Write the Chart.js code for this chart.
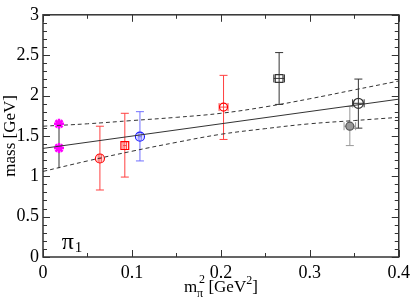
<!DOCTYPE html>
<html>
<head>
<meta charset="utf-8">
<script src="https://cdn.jsdelivr.net/npm/chart.js@4"></script>
<style>
  html, body { margin: 0; padding: 0; background: #fff; }
  #wrap { width: 415px; height: 305px; }
</style>
</head>
<body>
<div id="wrap"><canvas id="massChart" width="415" height="305"></canvas></div>
<script>
// axis tick labels
const xTickLabels = ['0', '0.1', '0.2', '0.3', '0.4'];
const yTickLabels = ['0', '0.5', '1', '1.5', '2', '2.5', '3'];

// linear fit and its error band
const fitX = [0, 0.4];
const fitY = [1.345, 1.955];
const bandX = [0, 0.05, 0.1, 0.15, 0.2, 0.25, 0.3, 0.35, 0.4];
const bandUpper = [1.62, 1.65, 1.69, 1.73, 1.78, 1.86, 1.96, 2.07, 2.18];
const bandLower = [1.06, 1.19, 1.31, 1.42, 1.52, 1.59, 1.65, 1.69, 1.73];

// extrapolated point at the physical pion mass
const physX = [0.018];
const physY = [1.35];
const physLo = [1.10];
const physHi = [1.65];
const starX = [0.018, 0.018];
const starY = [1.35, 1.65];

// lattice points
const massX  = [0.064, 0.092, 0.109, 0.203, 0.2655, 0.3546, 0.345];
const massY  = [1.22, 1.38, 1.49, 1.857, 2.212, 1.904, 1.62];
const massLo = [0.83, 0.99, 1.19, 1.456, 1.89, 1.596, 1.38];
const massHi = [1.62, 1.78, 1.80, 2.25, 2.532, 2.204, 1.864];
const massXErr = [0.002, 0.002, 0.002, 0.005, 0.006, 0.0065, 0.0065];

// label of the channel, in data units
const channelPos = [0.021, 0.1];

const SERIF = '"Liberation Serif", "DejaVu Serif", serif';

const pointStyles = [
  { shape: 'circle', color: '#ff0000', bar: '#ff4040', fill: 'rgba(0,0,0,0)', r: 4.5 },
  { shape: 'rect',   color: '#ff0000', bar: '#ff4040', fill: 'rgba(0,0,0,0)', r: 5.5 },
  { shape: 'circle', color: '#2020ff', bar: '#7070ff', fill: 'rgba(0,0,0,0)', r: 4.5 },
  { shape: 'circle', color: '#ff0000', bar: '#ff4040', fill: 'rgba(0,0,0,0)', r: 4 },
  { shape: 'rect',   color: '#333333', bar: '#333333', fill: 'rgba(0,0,0,0)', r: 5.5 },
  { shape: 'circle', color: '#333333', bar: '#333333', fill: 'rgba(0,0,0,0)', r: 5 },
  { shape: 'circle', color: '#555555', bar: '#999999', fill: '#999999', r: 4 }
];

function toPoints(xs, ys) {
  return xs.map((x, i) => ({ x: x, y: ys[i] }));
}

const datasets = [];

datasets.push({
  data: toPoints(bandX, bandUpper), showLine: true, pointRadius: 0,
  borderColor: '#333', borderWidth: 1, borderDash: [4, 3], tension: 0.4
});
datasets.push({
  data: toPoints(bandX, bandLower), showLine: true, pointRadius: 0,
  borderColor: '#333', borderWidth: 1, borderDash: [4, 3], tension: 0.4
});
datasets.push({
  data: toPoints(fitX, fitY), showLine: true, pointRadius: 0,
  borderColor: '#333', borderWidth: 1
});

// black error bar of the extrapolation, no marker of its own
datasets.push({
  data: toPoints(physX, physY), pointRadius: 0,
  err: physX.map((x, i) => ({ lo: physLo[i], hi: physHi[i], dx: 0 })),
  barColor: '#333', cap: 0
});

massX.forEach((x, i) => {
  const s = pointStyles[i];
  datasets.push({
    data: [{ x: x, y: massY[i] }],
    pointStyle: s.shape, pointRadius: s.r, borderWidth: 1.2,
    borderColor: s.color, backgroundColor: s.fill,
    err: [{ lo: massLo[i], hi: massHi[i], dx: massXErr[i] }],
    barColor: s.bar, cap: 4
  });
});

datasets.push({
  data: toPoints(starX, starY), pointStyle: 'star', pointRadius: 5,
  borderColor: '#ff00ff', backgroundColor: '#ff00ff', borderWidth: 2.5
});

const errorBars = {
  id: 'errorBars',
  beforeDatasetsDraw(chart) {
    const ctx = chart.ctx;
    const xs = chart.scales.x, ys = chart.scales.y;
    chart.data.datasets.forEach(ds => {
      if (!ds.err) return;
      ds.data.forEach((p, i) => {
        const e = ds.err[i];
        const px = xs.getPixelForValue(p.x);
        const py = ys.getPixelForValue(p.y);
        const top = ys.getPixelForValue(e.hi);
        const bot = ys.getPixelForValue(e.lo);
        ctx.save();
        ctx.strokeStyle = ds.barColor;
        ctx.lineWidth = 1;
        ctx.beginPath();
        ctx.moveTo(px, top); ctx.lineTo(px, bot);
        if (ds.cap) {
          ctx.moveTo(px - ds.cap, top); ctx.lineTo(px + ds.cap, top);
          ctx.moveTo(px - ds.cap, bot); ctx.lineTo(px + ds.cap, bot);
        }
        if (e.dx) {
          const l = xs.getPixelForValue(p.x - e.dx);
          const r = xs.getPixelForValue(p.x + e.dx);
          ctx.moveTo(l, py); ctx.lineTo(r, py);
          ctx.moveTo(l, py - 4); ctx.lineTo(l, py + 4);
          ctx.moveTo(r, py - 4); ctx.lineTo(r, py + 4);
        }
        ctx.stroke();
        ctx.restore();
      });
    });
  }
};

const frameAndText = {
  id: 'frameAndText',
  afterDraw(chart) {
    const ctx = chart.ctx;
    const a = chart.chartArea;
    const xs = chart.scales.x, ys = chart.scales.y;
    ctx.save();
    ctx.strokeStyle = '#333';
    ctx.lineWidth = 1.5;
    ctx.strokeRect(a.left, a.top, a.right - a.left, a.bottom - a.top);

    // inward ticks on all four sides
    ctx.lineWidth = 1;
    ctx.beginPath();
    for (let k = 0; k <= 8; k++) {
      const v = k * 0.05;
      const px = Math.round(xs.getPixelForValue(v)) + 0.5;
      const len = k % 2 === 0 ? 7 : 4;
      ctx.moveTo(px, a.bottom); ctx.lineTo(px, a.bottom - len);
      ctx.moveTo(px, a.top); ctx.lineTo(px, a.top + len);
    }
    for (let k = 0; k <= 30; k++) {
      const v = k * 0.1;
      const py = Math.round(ys.getPixelForValue(v)) + 0.5;
      const len = k % 5 === 0 ? 7 : 4;
      ctx.moveTo(a.left, py); ctx.lineTo(a.left + len, py);
      ctx.moveTo(a.right, py); ctx.lineTo(a.right - len, py);
    }
    ctx.stroke();

    ctx.fillStyle = '#000';
    ctx.textBaseline = 'alphabetic';

    // x title: m_pi^2 [GeV^2]
    const cx = (a.left + a.right) / 2;
    const base = 292;
    const big = '17px ' + SERIF, small = '12px ' + SERIF;
    ctx.font = big;
    const wM = ctx.measureText('m').width;
    const wG = ctx.measureText(' [GeV').width;
    const wB = ctx.measureText(']').width;
    ctx.font = small;
    const wPi = ctx.measureText('π').width;
    const w2 = ctx.measureText('2').width;
    const total = wM + Math.max(wPi, w2) + 1 + wG + w2 + wB;
    let x0 = cx - total / 2;
    ctx.textAlign = 'left';
    ctx.font = big;
    ctx.fillText('m', x0, base);
    x0 += wM;
    ctx.font = small;
    ctx.fillText('π', x0, base + 5);
    ctx.fillText('2', x0 + 2, base - 9);
    x0 += Math.max(wPi, w2) + 1;
    ctx.font = big;
    ctx.fillText(' [GeV', x0, base);
    x0 += wG;
    ctx.font = small;
    ctx.fillText('2', x0, base - 8);
    x0 += w2;
    ctx.font = big;
    ctx.fillText(']', x0, base);

    // y title
    ctx.save();
    ctx.translate(15, (a.top + a.bottom) / 2);
    ctx.rotate(-Math.PI / 2);
    ctx.textAlign = 'center';
    ctx.font = big;
    ctx.fillText('mass [GeV]', 0, 0);
    ctx.restore();

    // channel label
    const lx = xs.getPixelForValue(channelPos[0]);
    const ly = ys.getPixelForValue(channelPos[1]);
    ctx.textAlign = 'left';
    ctx.font = '24px ' + SERIF;
    ctx.fillText('π', lx, ly);
    const wp = ctx.measureText('π').width;
    ctx.font = '15px ' + SERIF;
    ctx.fillText('1', lx + wp + 1, ly + 3);
    ctx.restore();
  }
};

new Chart(document.getElementById('massChart'), {
  type: 'scatter',
  data: { datasets: datasets },
  options: {
    responsive: false,
    animation: false,
    events: [],
    layout: { padding: { top: 7, right: 12, left: 0, bottom: 0 } },
    plugins: { legend: { display: false }, tooltip: { enabled: false } },
    scales: {
      x: {
        type: 'linear', min: 0, max: 0.4,
        afterFit(scale) { scale.height = 48; },
        grid: { display: false, drawTicks: false },
        border: { display: false },
        ticks: {
          stepSize: 0.1, padding: 5, color: '#000',
          font: { family: SERIF, size: 18 },
          maxRotation: 0,
          callback: (v, i) => xTickLabels[i]
        }
      },
      y: {
        type: 'linear', min: 0, max: 3,
        afterFit(scale) { scale.width = 43; },
        grid: { display: false, drawTicks: false },
        border: { display: false },
        ticks: {
          stepSize: 0.5, padding: 4, color: '#000',
          font: { family: SERIF, size: 18 },
          callback: (v, i) => yTickLabels[i]
        }
      }
    }
  },
  plugins: [errorBars, frameAndText]
});
</script>
</body>
</html>
